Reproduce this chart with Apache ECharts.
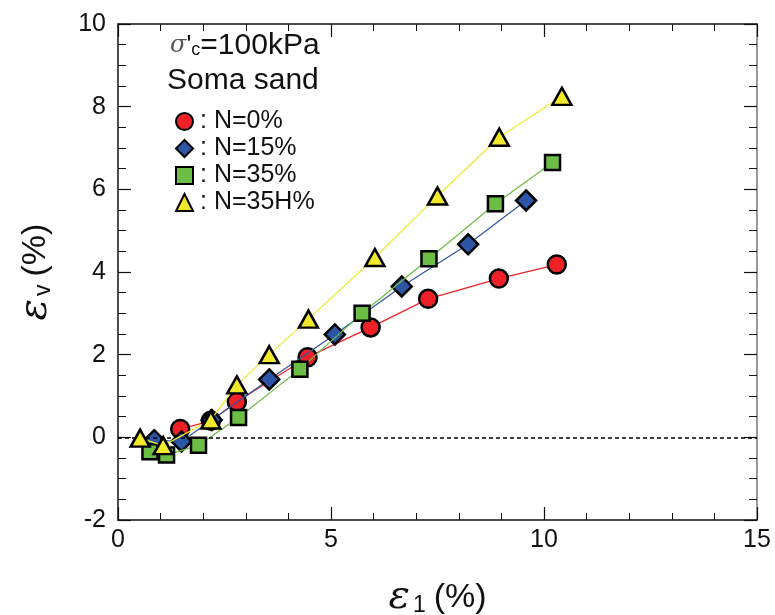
<!DOCTYPE html>
<html><head><meta charset="utf-8">
<script src="https://cdn.jsdelivr.net/npm/echarts@6/dist/echarts.min.js"></script>
<style>html,body{margin:0;padding:0;background:#fff}#c{width:775px;height:615px}</style>
</head><body><div id="c"></div>
<script>
// Data (ε1 %, εv %)
const seriesNames = ['N=0%', 'N=15%', 'N=35%', 'N=35H%'];
const n0 = [[1.46,0.20],[2.18,0.40],[2.79,0.86],[4.45,1.94],[5.93,2.66],[7.28,3.35],[8.94,3.84],[10.30,4.18]];
const n15 = [[0.85,-0.07],[1.49,-0.10],[2.20,0.42],[3.55,1.40],[5.09,2.49],[6.66,3.65],[8.22,4.67],[9.58,5.73]];
const n35 = [[0.75,-0.35],[1.14,-0.43],[1.89,-0.19],[2.83,0.48],[4.27,1.65],[5.73,3.00],[7.30,4.32],[8.86,5.65],[10.20,6.65]];
const n35H = [[0.52,-0.02],[1.06,-0.20],[2.18,0.42],[2.79,1.27],[3.55,2.00],[4.47,2.86],[6.03,4.35],[7.50,5.84],[8.95,7.26],[10.42,8.25]];
const xTicks = [0, 5, 10, 15];
const yTicks = [-2, 0, 2, 4, 6, 8, 10];

const FONT = '"Liberation Sans", Arial, sans-serif';
const colors = ['#ee2226', '#2d55a5', '#6bbd45', '#f1e92c'];
const symbols = ['circle', 'diamond', 'rect', 'triangle'];
const sizes = [18, 20, 15, [19, 17]];
const datas = [n0, n15, n35, n35H];

const chart = echarts.init(document.getElementById('c'), null, {renderer: 'canvas'});

const axisCommon = {
  axisLine: {show: true, onZero: false, lineStyle: {color: '#111', width: 1.5}},
  splitLine: {show: false},
};

const nameRich = {
  e: {fontFamily: '"DejaVu Serif", serif', fontStyle: 'italic', fontSize: 40, color: '#111'},
  s: {fontFamily: FONT, fontSize: 23, color: '#111', padding: [16, 8, 0, 3]},
  p: {fontFamily: FONT, fontSize: 34, color: '#111'}
};

const series = datas.map((d, i) => ({
  name: seriesNames[i],
  type: 'line',
  data: d,
  symbol: symbols[i],
  symbolSize: sizes[i],
  lineStyle: {color: colors[i], width: 1.2},
  itemStyle: {color: colors[i], borderColor: '#000', borderWidth: 2.5},
  z: 2 + i,
  animation: false,
  markLine: i === 0 ? {
    silent: true, symbol: ['none', 'none'], animation: false,
    lineStyle: {color: '#000', type: [4, 3], width: 1.5},
    label: {show: false},
    data: [{yAxis: 0}]
  } : undefined
}));

chart.setOption({
  animation: false,
  grid: {left: 118, right: 18, top: 24, bottom: 95, outerBoundsMode: 'none', containLabel: false},
  legend: {
    orient: 'vertical', left: 170, top: 104, itemGap: 2,
    itemWidth: 17, itemHeight: 17,
    textStyle: {fontFamily: FONT, fontSize: 25, color: '#111', padding: [0, 0, 0, 2]},
    formatter: n => ': ' + n,
    selectedMode: false,
    data: seriesNames.map((n, i) => ({name: n, icon: symbols[i]}))
  },
  xAxis: [
    Object.assign({}, axisCommon, {
      type: 'value', min: 0, max: 15, interval: 5, position: 'bottom',
      axisTick: {show: true, inside: true, length: 13, lineStyle: {color: '#111', width: 1.2}},
      minorTick: {show: true, splitNumber: 5, length: 7, lineStyle: {color: '#111', width: 1}},
      axisLabel: {fontFamily: FONT, fontSize: 25, color: '#111', margin: 8,
        formatter: v => xTicks.includes(v) ? String(v) : ''},
      name: '{e|ε}{s|1}{p|(%)}', nameLocation: 'middle', nameGap: 58,
      nameTextStyle: {rich: nameRich}
    }),
    Object.assign({}, axisCommon, {
      type: 'value', min: 0, max: 15, interval: 5, position: 'top',
      axisTick: {show: true, inside: true, length: 13, lineStyle: {color: '#111', width: 1.2}},
      minorTick: {show: true, splitNumber: 5, length: 7, lineStyle: {color: '#111', width: 1}},
      axisLabel: {show: false}
    })
  ],
  yAxis: [
    Object.assign({}, axisCommon, {
      type: 'value', min: -2, max: 10, interval: 2, position: 'left',
      axisTick: {show: true, inside: true, length: 13, lineStyle: {color: '#111', width: 1.2}},
      minorTick: {show: true, splitNumber: 4, length: 8, lineStyle: {color: '#111', width: 1}},
      axisLabel: {fontFamily: FONT, fontSize: 25, color: '#111', margin: 12,
        formatter: v => yTicks.includes(v) ? String(v) : ''},
      name: '{e|ε}{s|v}{p|(%)}', nameLocation: 'middle', nameGap: 62, nameRotate: 90,
      nameTextStyle: {rich: nameRich}
    }),
    Object.assign({}, axisCommon, {
      type: 'value', min: -2, max: 10, interval: 2, position: 'right',
      axisLine: {show: true, onZero: false, lineStyle: {color: '#777', width: 1.5}},
      axisTick: {show: true, inside: true, length: 13, lineStyle: {color: '#111', width: 1.2}},
      minorTick: {show: true, splitNumber: 4, length: 8, lineStyle: {color: '#111', width: 1}},
      axisLabel: {show: false}
    })
  ],
  graphic: [
    {type: 'text', left: 170, top: 31, style: {
      text: "{g|σ}{q|'}{c|c}{t|=100kPa}",
      rich: {
        g: {fontFamily: '"DejaVu Serif", serif', fontStyle: 'italic', fontSize: 24, fill: '#555'},
        q: {fontFamily: FONT, fontSize: 26, fill: '#111'},
        c: {fontFamily: FONT, fontSize: 18, fill: '#111', padding: [8, 0, 0, 0]},
        t: {fontFamily: FONT, fontSize: 30, fill: '#111'}
      }
    }},
    {type: 'text', left: 167, top: 66, style: {
      text: 'Soma sand', fontFamily: FONT, fontSize: 30, fill: '#111'
    }}
  ],
  series: series
});
</script>
</body></html>
